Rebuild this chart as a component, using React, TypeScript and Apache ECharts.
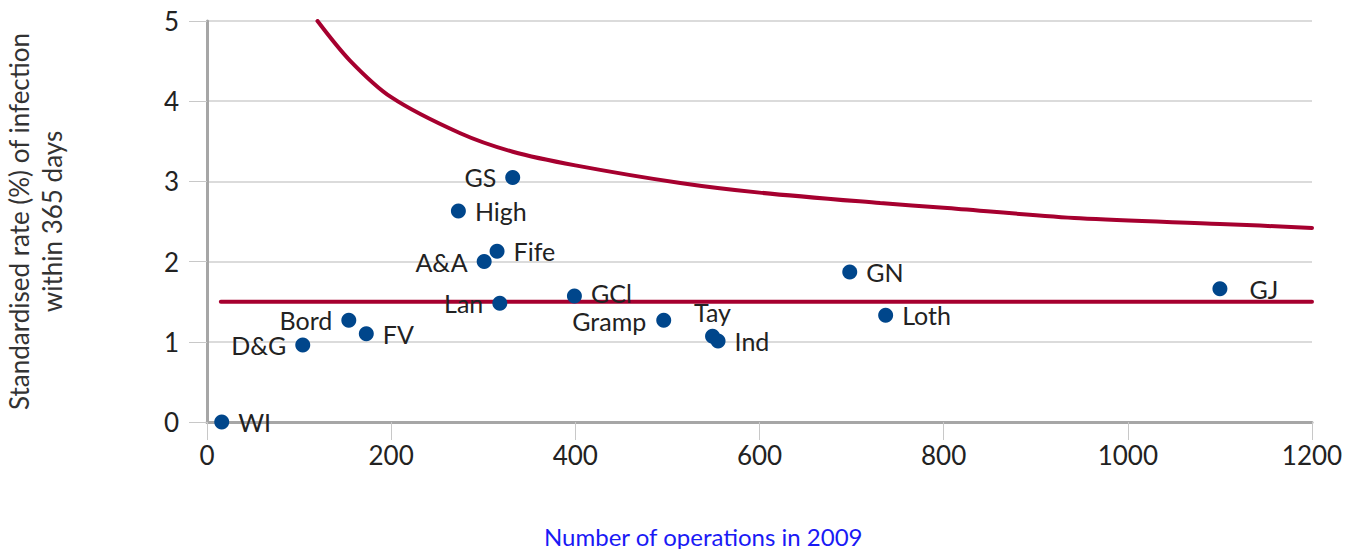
import React, { useEffect, useRef } from "react";
import * as echarts from "echarts";

const boards = ["WI", "D&G", "Bord", "FV", "High", "GS", "A&A", "Fife", "Lan", "GCl", "Gramp", "Tay", "Ind", "GN", "Loth", "GJ"];
const operations = [16, 104, 154, 173, 273, 332, 301, 315, 318, 399, 496, 549, 555, 698, 737, 1100];
const rates = [0.0, 0.96, 1.27, 1.1, 2.63, 3.05, 2.0, 2.13, 1.48, 1.57, 1.27, 1.07, 1.01, 1.87, 1.33, 1.66];

const meanX = [15, 1200];
const meanY = [1.5, 1.5];

const limitX = [120, 155, 200, 275, 332, 400, 514, 600, 731, 800, 948, 1100, 1200];
const limitY = [5.0, 4.51, 4.05, 3.6, 3.37, 3.2, 2.98, 2.86, 2.73, 2.67, 2.54, 2.47, 2.42];

const xTicks = [0, 200, 400, 600, 800, 1000, 1200];
const yTicks = [0, 1, 2, 3, 4, 5];

const labelPlacement: Record<string, { position: string; distance: number; offset?: number[] }> = {
  "D&G": { position: "left", distance: 9 },
  Bord: { position: "left", distance: 9 },
  GS: { position: "left", distance: 9 },
  "A&A": { position: "left", distance: 9 },
  Lan: { position: "left", distance: 9 },
  GCl: { position: "right", distance: 9, offset: [0, -3] },
  Gramp: { position: "left", distance: 10, offset: [0, 1] },
  Tay: { position: "top", distance: 6 },
  GJ: { position: "right", distance: 22 },
};

const FONT = "Lato, 'Open Sans', sans-serif";

export default function App() {
  const ref = useRef<HTMLDivElement>(null);
  useEffect(() => {
    if (!ref.current) return;
    const chart = echarts.init(ref.current, undefined, { renderer: "svg" });
    const scatterData = boards.map((b, i) => {
      const p = labelPlacement[b] || { position: "right", distance: 9 };
      return {
        name: b,
        value: [operations[i], rates[i]],
        label: { position: p.position, distance: p.distance, offset: p.offset || [0, 0] },
      };
    });
    chart.setOption({
      animation: false,
      backgroundColor: "#ffffff",
      textStyle: { fontFamily: FONT },
      grid: { left: 207, right: 38, top: 21, bottom: 127, containLabel: false, outerBoundsMode: "none" },
      graphic: [
        {
          type: "text",
          left: 544,
          top: 524,
          style: { text: "Number of operations in 2009", fill: "#1a1af5", fontSize: 24, fontFamily: FONT },
        },
      ],
      xAxis: {
        type: "value",
        min: 0,
        max: 1200,
        interval: 200,
        axisLine: { show: true, lineStyle: { color: "#a6a6a6", width: 3 } },
        axisTick: { show: true, length: 18, lineStyle: { color: "#c8c8c8", width: 1 } },
        axisLabel: { color: "#222", fontSize: 26, margin: 20, fontFamily: FONT, formatter: (v: number) => (xTicks.includes(v) ? String(v) : "") },
        splitLine: { show: false },
      },
      yAxis: {
        type: "value",
        min: 0,
        max: 5,
        interval: 1,
        name: "Standardised rate (%) of infection\nwithin 365 days",
        nameLocation: "middle",
        nameGap: 139,
        nameRotate: 90,
        nameTextStyle: { color: "#333", fontSize: 26, lineHeight: 33, fontFamily: FONT },
        axisLine: { show: true, lineStyle: { color: "#a6a6a6", width: 3 } },
        axisTick: { show: true, length: 18, lineStyle: { color: "#c8c8c8", width: 1 } },
        axisLabel: { color: "#222", fontSize: 26, margin: 28, fontFamily: FONT, formatter: (v: number) => (yTicks.includes(v) ? String(v) : "") },
        splitLine: { show: true, lineStyle: { color: "#cfcfcf", width: 1.5 } },
      },
      series: [
        {
          type: "line",
          data: meanX.map((x, i) => [x, meanY[i]]),
          symbol: "none",
          lineStyle: { color: "#a6002f", width: 4, cap: "round" },
          z: 2,
        },
        {
          type: "line",
          data: limitX.map((x, i) => [x, limitY[i]]),
          symbol: "none",
          smooth: 0.3,
          lineStyle: { color: "#a6002f", width: 4, cap: "round" },
          z: 2,
        },
        {
          type: "scatter",
          data: scatterData,
          symbolSize: 15,
          itemStyle: { color: "#00468b", opacity: 1 },
          label: {
            show: true,
            formatter: "{b}",
            color: "#222",
            fontSize: 25,
            lineHeight: 21,
            fontFamily: FONT,
          },
          z: 3,
        },
      ],
    });
    return () => chart.dispose();
  }, []);
  return <div ref={ref} style={{ width: 1350, height: 549, position: "absolute", left: 0, top: 0 }} />;
}
